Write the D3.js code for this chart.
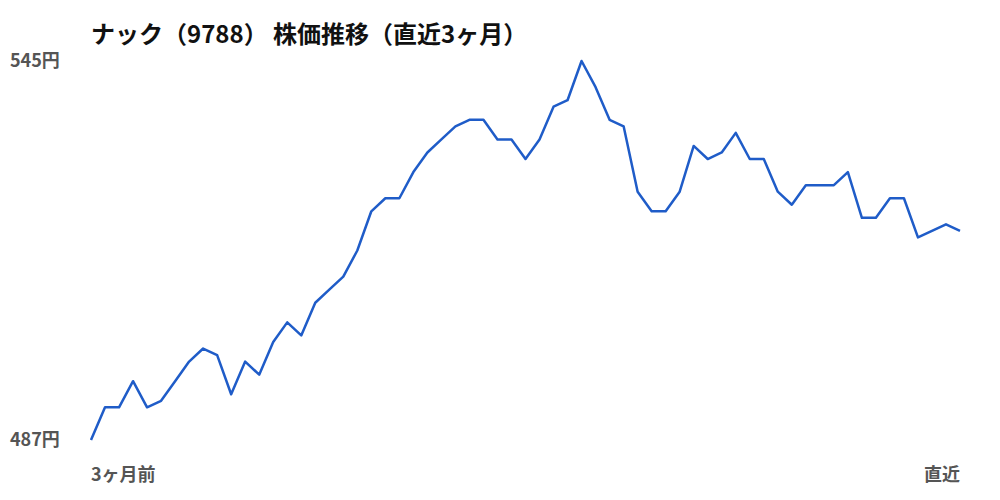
<!DOCTYPE html>
<html><head><meta charset="utf-8">
<script src="https://cdn.jsdelivr.net/npm/d3@7"></script>
<style>body{margin:0;background:#fff}svg{display:block}</style>
</head><body>
<svg id="c" width="1000" height="500"></svg>
<script>
const title = "ナック（9788） 株価推移（直近3ヶ月）";
const prices = [487,492,492,496,492,493,496,499,501,500,494,499,497,502,505,503,508,510,512,516,
522,524,524,528,531,533,535,536,536,533,533,530,533,538,539,545,541,536,535,525,
522,522,525,532,530,531,534,530,530,525,523,526,526,526,528,521,521,524,524,518,
519,520,519];
const yTicks = [487, 545];
const xLabels = ["3ヶ月前", "直近"];

const svg = d3.select("#c");
const font = "'Noto Sans CJK JP','Noto Sans',sans-serif";
const x = d3.scaleLinear().domain([0, prices.length - 1]).range([91, 960]);
const y = d3.scaleLinear().domain([487, 545]).range([440, 61]);

svg.append("text").attr("x", 91).attr("y", 43).attr("font-family", font)
  .attr("font-size", 24).attr("font-weight", 700).attr("fill", "#111").text(title);

svg.selectAll(".yl").data(yTicks).enter().append("text")
  .attr("x", 10).attr("y", d => y(d)).attr("dy", "0.35em")
  .attr("font-family", font).attr("font-size", 18).attr("font-weight", 700)
  .attr("fill", "#555").text(d => d + "円");

svg.append("text").attr("x", 91).attr("y", 481).attr("font-family", font)
  .attr("font-size", 18).attr("font-weight", 700).attr("fill", "#555").text(xLabels[0]);
svg.append("text").attr("x", 960).attr("y", 481).attr("text-anchor", "end").attr("font-family", font)
  .attr("font-size", 18).attr("font-weight", 700).attr("fill", "#555").text(xLabels[1]);

const line = d3.line().x((d, i) => x(i)).y(d => y(d));
svg.append("path").datum(prices).attr("d", line).attr("fill", "none")
  .attr("stroke", "#1f5cc8").attr("stroke-width", 2.5).attr("stroke-linejoin", "round");
</script>
</body></html>
